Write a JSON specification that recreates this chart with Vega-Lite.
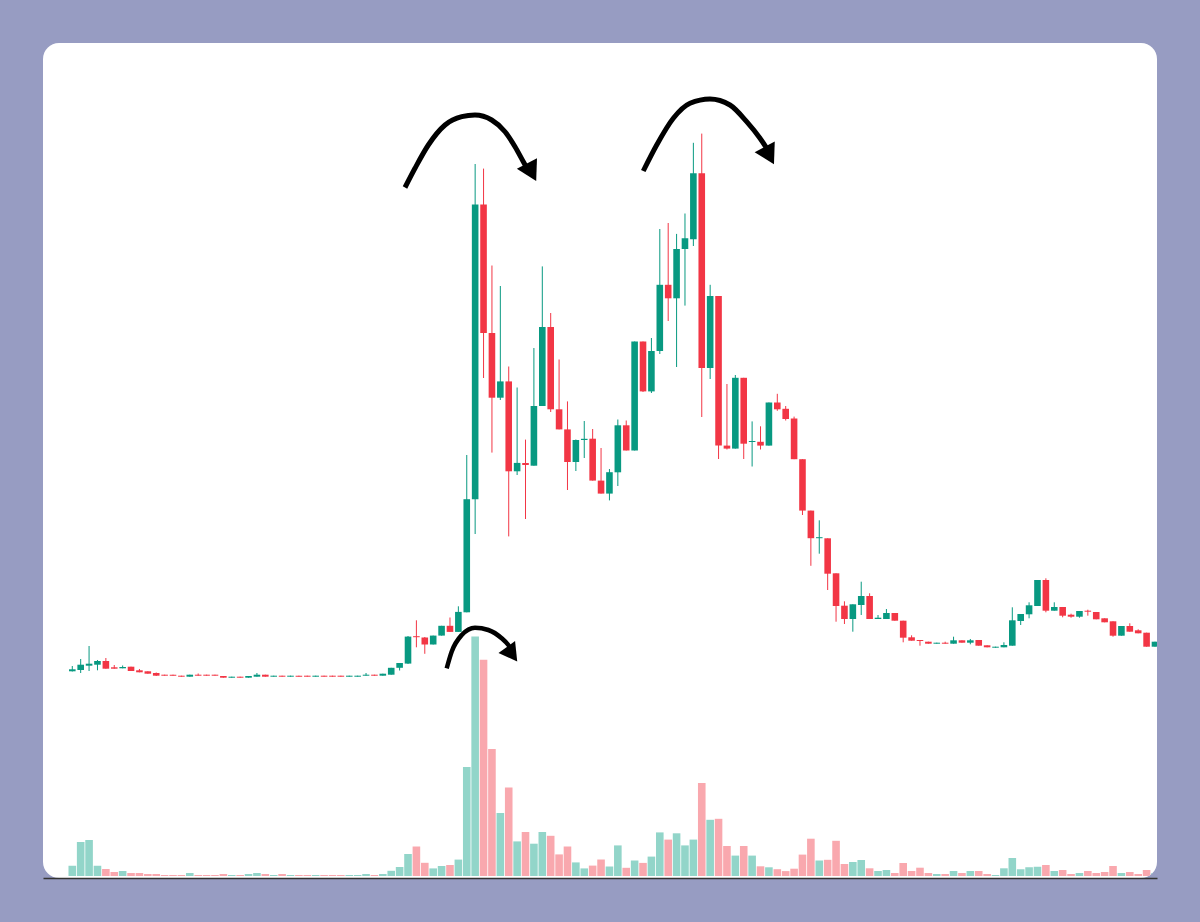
{
  "$schema": "https://vega.github.io/schema/vega-lite/v6.json",
  "width": 1114,
  "height": 835,
  "autosize": {"type": "none"},
  "padding": {"left": 43, "top": 43, "right": 43, "bottom": 44},
  "background": "#979cc2",
  "config": {"view": {"fill": "white", "stroke": null, "cornerRadius": 16}},
  "datasets": {
    "candles": [
      {"i":0,"o":206.7,"h":212,"l":206.5,"c":208.7,"v":10.3},
      {"i":1,"o":208,"h":219,"l":205,"c":213.3,"v":34},
      {"i":2,"o":212.3,"h":232,"l":207,"c":214.3,"v":36},
      {"i":3,"o":213.3,"h":218,"l":207.7,"c":217,"v":10.3},
      {"i":4,"o":217,"h":220,"l":209.3,"c":209.3,"v":7},
      {"i":5,"o":210.7,"h":213,"l":209.3,"c":209.3,"v":4},
      {"i":6,"o":209.7,"h":212.5,"l":209.7,"c":211,"v":5},
      {"i":7,"o":211.3,"h":211.3,"l":207,"c":207,"v":3},
      {"i":8,"o":207.7,"h":209,"l":205.7,"c":205.7,"v":3},
      {"i":9,"o":206.7,"h":206.7,"l":204.3,"c":204.3,"v":2},
      {"i":10,"o":205,"h":205.5,"l":202,"c":202.3,"v":2},
      {"i":11,"o":203.3,"h":203.3,"l":202.3,"c":202.3,"v":1},
      {"i":12,"o":203.3,"h":203.3,"l":202.3,"c":202.3,"v":1},
      {"i":13,"o":202.3,"h":202.3,"l":201.3,"c":201.3,"v":1},
      {"i":14,"o":201.3,"h":203.3,"l":201.3,"c":203.3,"v":3},
      {"i":15,"o":203.3,"h":204.5,"l":202.3,"c":202.3,"v":1},
      {"i":16,"o":203.3,"h":203.3,"l":202.3,"c":202.3,"v":1},
      {"i":17,"o":203.3,"h":203.3,"l":202.3,"c":202.3,"v":1},
      {"i":18,"o":202,"h":202,"l":200.3,"c":200.3,"v":2},
      {"i":19,"o":200.3,"h":201.3,"l":200.3,"c":201.3,"v":1},
      {"i":20,"o":201.3,"h":201.3,"l":200.3,"c":200.3,"v":1},
      {"i":21,"o":200.3,"h":202,"l":200.3,"c":202,"v":2},
      {"i":22,"o":201.3,"h":205,"l":201.3,"c":203.3,"v":3},
      {"i":23,"o":203.3,"h":203.3,"l":201.3,"c":201.3,"v":2},
      {"i":24,"o":201.3,"h":202.3,"l":201.3,"c":202.3,"v":1},
      {"i":25,"o":202.3,"h":202.3,"l":201.3,"c":201.3,"v":2},
      {"i":26,"o":201.3,"h":202.3,"l":201.3,"c":202.3,"v":1},
      {"i":27,"o":202.3,"h":202.3,"l":201.3,"c":201.3,"v":1},
      {"i":28,"o":202.3,"h":202.3,"l":201.3,"c":201.3,"v":1},
      {"i":29,"o":201.3,"h":202.3,"l":201.3,"c":202.3,"v":1},
      {"i":30,"o":202.3,"h":202.3,"l":201.3,"c":201.3,"v":1},
      {"i":31,"o":202.3,"h":202.3,"l":201.3,"c":201.3,"v":1},
      {"i":32,"o":202.3,"h":202.3,"l":201.3,"c":201.3,"v":1},
      {"i":33,"o":201.3,"h":202.3,"l":201.3,"c":202.3,"v":1},
      {"i":34,"o":201.3,"h":202.3,"l":201.3,"c":202.3,"v":1},
      {"i":35,"o":202.3,"h":205,"l":202.3,"c":203.3,"v":2},
      {"i":36,"o":203.3,"h":203.3,"l":202.3,"c":202.3,"v":1},
      {"i":37,"o":202.3,"h":204.3,"l":202.3,"c":204.3,"v":2},
      {"i":38,"o":203.3,"h":210.2,"l":203.3,"c":210.2,"v":5.2},
      {"i":39,"o":210.2,"h":215,"l":207.5,"c":215,"v":9},
      {"i":40,"o":214.4,"h":242,"l":214,"c":241.4,"v":22},
      {"i":41,"o":241.8,"h":257.7,"l":230.7,"c":240.8,"v":29.5},
      {"i":42,"o":240.5,"h":241,"l":224.2,"c":233.5,"v":13.2},
      {"i":43,"o":233.5,"h":242.4,"l":233.5,"c":242.4,"v":7.6},
      {"i":44,"o":242.4,"h":252.2,"l":242.4,"c":252.2,"v":10},
      {"i":45,"o":252.2,"h":260.5,"l":246.1,"c":246.1,"v":11},
      {"i":46,"o":246.1,"h":271.7,"l":246.1,"c":266.1,"v":16.4},
      {"i":47,"o":265.7,"h":423,"l":265.7,"c":378.8,"v":109},
      {"i":48,"o":378.8,"h":714,"l":344,"c":673.5,"v":239.4},
      {"i":49,"o":673.5,"h":709.4,"l":500,"c":545,"v":216.2},
      {"i":50,"o":545,"h":612.5,"l":425.4,"c":480.3,"v":127},
      {"i":51,"o":480.3,"h":592,"l":478,"c":496.6,"v":63},
      {"i":52,"o":496.6,"h":511.5,"l":341.6,"c":406.7,"v":88.6},
      {"i":53,"o":406.7,"h":490.5,"l":403,"c":415.1,"v":34.6},
      {"i":54,"o":415,"h":438.4,"l":359,"c":413,"v":44},
      {"i":55,"o":412.3,"h":530,"l":412.3,"c":472,"v":32.3},
      {"i":56,"o":472,"h":611.6,"l":472,"c":551,"v":44},
      {"i":57,"o":551,"h":565,"l":466,"c":468.7,"v":40.2},
      {"i":58,"o":468.7,"h":518.5,"l":448.6,"c":448.6,"v":21.6},
      {"i":59,"o":448.6,"h":476.6,"l":388,"c":416,"v":29.5},
      {"i":60,"o":416,"h":438.5,"l":407,"c":438,"v":13.6},
      {"i":61,"o":438,"h":457,"l":420,"c":439.2,"v":7.6},
      {"i":62,"o":439.3,"h":449,"l":397.4,"c":397.4,"v":10.4},
      {"i":63,"o":397.4,"h":430,"l":384.4,"c":384.4,"v":16.5},
      {"i":64,"o":384.4,"h":409,"l":377.6,"c":405.8,"v":9.5},
      {"i":65,"o":405.7,"h":458.5,"l":392,"c":452.7,"v":30.6},
      {"i":66,"o":452.7,"h":457.5,"l":427.5,"c":427.5,"v":8.2},
      {"i":67,"o":427.5,"h":536.5,"l":427.5,"c":536.5,"v":15.5},
      {"i":68,"o":536.5,"h":536.5,"l":486,"c":486.6,"v":13.1},
      {"i":69,"o":486.6,"h":540,"l":485,"c":527,"v":19.4},
      {"i":70,"o":527,"h":649,"l":524,"c":593.2,"v":43.6},
      {"i":71,"o":593.2,"h":655,"l":557,"c":579.7,"v":36.4},
      {"i":72,"o":579.7,"h":644.1,"l":511,"c":629.1,"v":42.7},
      {"i":73,"o":629.1,"h":664.5,"l":572.4,"c":639.8,"v":30.6},
      {"i":74,"o":638.8,"h":735.2,"l":632,"c":704.7,"v":36.4},
      {"i":75,"o":704.7,"h":744.4,"l":461,"c":510,"v":93},
      {"i":76,"o":510,"h":593.2,"l":499,"c":582,"v":56.2},
      {"i":77,"o":582,"h":582,"l":419,"c":432.4,"v":57.2},
      {"i":78,"o":432.4,"h":494,"l":428.5,"c":429.4,"v":30},
      {"i":79,"o":429.4,"h":503,"l":429.4,"c":500.2,"v":20.4},
      {"i":80,"o":500.2,"h":500.2,"l":419,"c":434.3,"v":30},
      {"i":81,"o":436,"h":456.6,"l":411.5,"c":437,"v":20.4},
      {"i":82,"o":436.2,"h":451.7,"l":428.5,"c":432.4,"v":9.7},
      {"i":83,"o":432.4,"h":475.5,"l":432.4,"c":475.5,"v":8.7},
      {"i":84,"o":475.5,"h":484.2,"l":467.2,"c":468.7,"v":6.8},
      {"i":85,"o":469.2,"h":472,"l":457.5,"c":459,"v":4.9},
      {"i":86,"o":459.5,"h":461.4,"l":418.8,"c":418.8,"v":7.3},
      {"i":87,"o":418.8,"h":418.8,"l":363,"c":367.4,"v":21.4},
      {"i":88,"o":367.4,"h":367.4,"l":312.2,"c":339.8,"v":37.3},
      {"i":89,"o":339.8,"h":357.7,"l":324.3,"c":340.8,"v":15.5},
      {"i":90,"o":339.7,"h":339.7,"l":288,"c":304.3,"v":16.2},
      {"i":91,"o":304.7,"h":304.7,"l":256.3,"c":272,"v":35.2},
      {"i":92,"o":272.3,"h":276.7,"l":254,"c":259,"v":12},
      {"i":93,"o":259,"h":273.7,"l":246.3,"c":273.7,"v":14},
      {"i":94,"o":273,"h":296.3,"l":263,"c":282,"v":16},
      {"i":95,"o":282,"h":284.7,"l":259,"c":259,"v":7.7},
      {"i":96,"o":259,"h":263,"l":259,"c":260.3,"v":5},
      {"i":97,"o":259,"h":269,"l":259,"c":265,"v":6},
      {"i":98,"o":265,"h":265,"l":257.3,"c":257.3,"v":3},
      {"i":99,"o":257.3,"h":257.3,"l":235.7,"c":240.3,"v":13},
      {"i":100,"o":240.7,"h":242.7,"l":237.3,"c":237.3,"v":5},
      {"i":101,"o":238,"h":238,"l":232.3,"c":237,"v":8.3},
      {"i":102,"o":236.3,"h":236.3,"l":234.3,"c":234.3,"v":3},
      {"i":103,"o":234.3,"h":235.3,"l":234.3,"c":235.3,"v":2},
      {"i":104,"o":235.3,"h":236.3,"l":234.3,"c":234.3,"v":2},
      {"i":105,"o":234.3,"h":241.3,"l":234.3,"c":237.7,"v":5},
      {"i":106,"o":237.7,"h":237.7,"l":235.3,"c":235.3,"v":3},
      {"i":107,"o":235.3,"h":239,"l":233.7,"c":237.7,"v":5},
      {"i":108,"o":238,"h":238,"l":232.3,"c":232.3,"v":5},
      {"i":109,"o":232.7,"h":232.7,"l":230.7,"c":230.7,"v":2},
      {"i":110,"o":230.3,"h":231.3,"l":230.3,"c":231.3,"v":1},
      {"i":111,"o":230.7,"h":235.7,"l":230.7,"c":233,"v":7.7},
      {"i":112,"o":232.3,"h":270.7,"l":232.3,"c":257.7,"v":18},
      {"i":113,"o":257,"h":264,"l":253,"c":264,"v":6.7},
      {"i":114,"o":263.7,"h":275.7,"l":259.7,"c":272.7,"v":8.7},
      {"i":115,"o":272,"h":298,"l":272,"c":298,"v":9.3},
      {"i":116,"o":298,"h":299.7,"l":265.7,"c":267.3,"v":11},
      {"i":117,"o":267.3,"h":275.7,"l":267.3,"c":271,"v":5},
      {"i":118,"o":271,"h":271,"l":260.7,"c":262.3,"v":6},
      {"i":119,"o":263.3,"h":264.3,"l":260.3,"c":261.3,"v":2},
      {"i":120,"o":261.3,"h":267,"l":260.3,"c":267,"v":3},
      {"i":121,"o":267.3,"h":268.3,"l":262.3,"c":266.3,"v":5},
      {"i":122,"o":266,"h":266,"l":258.7,"c":258.7,"v":3},
      {"i":123,"o":259.7,"h":259.7,"l":255.7,"c":255.7,"v":4},
      {"i":124,"o":256.7,"h":256.7,"l":241.3,"c":242.3,"v":10},
      {"i":125,"o":242.3,"h":252,"l":242.3,"c":252,"v":3},
      {"i":126,"o":252,"h":254.7,"l":246.3,"c":246.3,"v":4},
      {"i":127,"o":247.7,"h":248.7,"l":244.7,"c":244.7,"v":2},
      {"i":128,"o":245.3,"h":245.3,"l":231.3,"c":231.3,"v":6},
      {"i":129,"o":231.3,"h":236.3,"l":231.3,"c":236.3,"v":3}
    ],
    "arrows": [
      {"a":1,"i":39.64,"p":690.5},{"a":1,"i":40.83,"p":709.7},{"a":1,"i":42.42,"p":733},{"a":1,"i":44.41,"p":753},{"a":1,"i":46.4,"p":761.3},{"a":1,"i":47.98,"p":763},{"a":1,"i":49.97,"p":758},{"a":1,"i":51.56,"p":746.3},{"a":1,"i":52.75,"p":731.3},{"a":1,"i":53.74,"p":716.3},{"a":1,"i":54.3,"p":708},
      {"a":2,"i":68.03,"p":707},{"a":2,"i":69.63,"p":733},{"a":2,"i":71.61,"p":759.7},{"a":2,"i":73.6,"p":774.7},{"a":2,"i":75.98,"p":779},{"a":2,"i":78.36,"p":773},{"a":2,"i":80.35,"p":756.3},{"a":2,"i":81.94,"p":739.7},{"a":2,"i":82.74,"p":729.7},{"a":2,"i":83.01,"p":726},
      {"a":3,"i":44.61,"p":209.7},{"a":3,"i":45.2,"p":226.3},{"a":3,"i":46.4,"p":243},{"a":3,"i":47.98,"p":250.3},{"a":3,"i":49.57,"p":248},{"a":3,"i":51.16,"p":239.7},{"a":3,"i":51.95,"p":233},{"a":3,"i":52.27,"p":229}
    ],
    "heads": [
      {"a":1,"i":54.72,"p":705.8},
      {"a":2,"i":83.05,"p":722.4},
      {"a":3,"i":52.39,"p":223.8}
    ]
  },
  "encoding": {
    "x": {
      "field": "i",
      "type": "quantitative",
      "scale": {"domain": [-3.49, 129.24], "nice": false, "zero": false, "padding": 0},
      "axis": {"labels": false, "ticks": false, "grid": false, "title": null, "domainColor": "#333333", "domainWidth": 1.5}
    }
  },
  "layer": [
    {
      "data": {"name": "candles"},
      "mark": {"type": "bar", "width": 7.6, "clip": true},
      "encoding": {
        "y": {"field": "v", "type": "quantitative", "scale": {"domain": [-2, 833], "nice": false, "zero": false}, "axis": null},
        "y2": {"datum": 0},
        "color": {"condition": {"test": "datum.c >= datum.o", "value": "#92d5c9"}, "value": "#f9a8ae"}
      }
    },
    {
      "data": {"name": "candles"},
      "mark": {"type": "rule", "strokeWidth": 1, "clip": true},
      "encoding": {
        "y": {"field": "l", "type": "quantitative", "scale": {"domain": [0, 835], "nice": false, "zero": false}, "axis": null},
        "y2": {"field": "h"},
        "color": {"condition": {"test": "datum.c >= datum.o", "value": "#089981"}, "value": "#f23645"}
      }
    },
    {
      "data": {"name": "candles"},
      "mark": {"type": "bar", "width": 6.6, "clip": true},
      "encoding": {
        "y": {"field": "o", "type": "quantitative", "scale": {"domain": [0, 835], "nice": false, "zero": false}, "axis": null},
        "y2": {"field": "c"},
        "color": {"condition": {"test": "datum.c >= datum.o", "value": "#089981"}, "value": "#f23645"}
      }
    },
    {
      "data": {"name": "arrows"},
      "mark": {"type": "line", "interpolate": "monotone", "color": "black", "strokeCap": "butt"},
      "encoding": {
        "y": {"field": "p", "type": "quantitative", "scale": {"domain": [0, 835], "nice": false, "zero": false}, "axis": null},
        "detail": {"field": "a"},
        "strokeWidth": {"condition": {"test": "datum.a == 3", "value": 4.5}, "value": 5}
      }
    },
    {
      "data": {"name": "heads"},
      "transform": [{"filter": "datum.a == 1"}],
      "mark": {"type": "point", "shape": "triangle-up", "filled": true, "color": "black", "opacity": 1, "size": 520, "angle": 152},
      "encoding": {"y": {"field": "p", "type": "quantitative", "scale": {"domain": [0, 835], "nice": false, "zero": false}, "axis": null}}
    },
    {
      "data": {"name": "heads"},
      "transform": [{"filter": "datum.a == 2"}],
      "mark": {"type": "point", "shape": "triangle-up", "filled": true, "color": "black", "opacity": 1, "size": 520, "angle": 152},
      "encoding": {"y": {"field": "p", "type": "quantitative", "scale": {"domain": [0, 835], "nice": false, "zero": false}, "axis": null}}
    },
    {
      "data": {"name": "heads"},
      "transform": [{"filter": "datum.a == 3"}],
      "mark": {"type": "point", "shape": "triangle-up", "filled": true, "color": "black", "opacity": 1, "size": 420, "angle": 144},
      "encoding": {"y": {"field": "p", "type": "quantitative", "scale": {"domain": [0, 835], "nice": false, "zero": false}, "axis": null}}
    }
  ],
  "resolve": {"scale": {"y": "independent"}}
}
